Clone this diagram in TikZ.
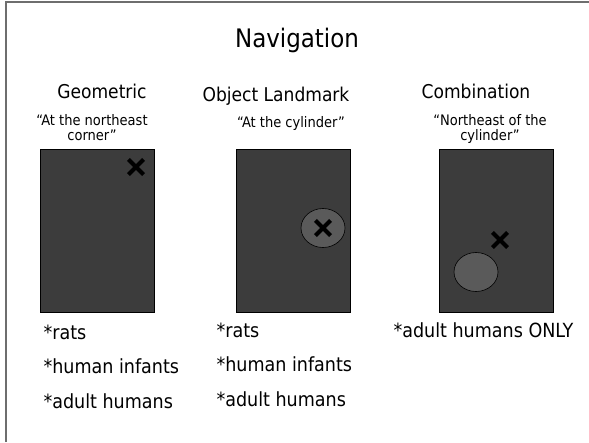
\documentclass[tikz,border=0pt]{standalone}
\usepackage{fontspec}
\setmainfont{DejaVu Sans Condensed}
\usetikzlibrary{positioning}
\usetikzlibrary{shapes.geometric,shapes.misc}
\definecolor{arenagray}{HTML}{3C3C3C}
\definecolor{cylgray}{HTML}{5A5A5A}
\definecolor{framegray}{HTML}{6E6E6E}

\begin{document}
\begin{tikzpicture}[x=1pt,y=-1pt,
  arena/.style = {draw=black, fill=arenagray, line width=0.8pt, minimum width=114pt, minimum height=163pt, inner sep=0pt},
  cyl/.style = {draw=black, fill=cylgray, ellipse, line width=0.6pt, minimum width=44pt, minimum height=39pt, inner sep=0pt},
  goal/.style = {cross out, draw=black, line width=4.2pt, minimum size=11pt, inner sep=0pt},
  head/.style = {anchor=base, font=\fontsize{19}{22}\selectfont},
  quote/.style = {anchor=base, align=center, font=\fontsize{14.5}{15}\selectfont},
  who/.style = {anchor=base west, font=\fontsize{19.5}{22}\selectfont}]
	\useasboundingbox (0,0) rectangle (589,442);
	\draw[framegray, line width=1.6pt] (6,442) -- (6,2) -- (589,2);
	\node[anchor=base, font=\fontsize{25.5}{29}\selectfont] (title) at (297,47) {Navigation};
	% geometric
	\node[head] (geo) at (102,98) {Geometric};
	\node[quote] (geoq) at (92,140) {``At the northeast\\corner''};
	\node[arena] (geobox) at (97,230.5) {};
	\node[goal] (geox) at (136,167) {};
	\node[who] (geo1) at (40,339) {*rats};
	\node[who] (geo2) at (40,373) {*human infants};
	\node[who] (geo3) at (40,408) {*adult humans};
	% object landmark
	\node[head] (obj) at (276,101) {Object Landmark};
	\node[quote] (objq) at (291,127) {``At the cylinder''};
	\node[arena] (objbox) at (293.5,230.5) {};
	\node[cyl] (objcyl) at (323,228) {};
	\node[goal] (objx) at (objcyl.center) {};
	\node[who] (obj1) at (213,337) {*rats};
	\node[who] (obj2) at (213,371) {*human infants};
	\node[who] (obj3) at (213,406) {*adult humans};
	% combination
	\node[head] (comb) at (476,98) {Combination};
	\node[quote] (combq) at (490,140) {``Northeast of the\\cylinder''};
	\node[arena] (combbox) at (496,230.5) {};
	\node[cyl] (combcyl) at (476,272) {};
	\node[goal] (combx) at (500,240) {};
	\node[who] (comb1) at (390,337) {*adult humans ONLY};
\end{tikzpicture}
\end{document}
